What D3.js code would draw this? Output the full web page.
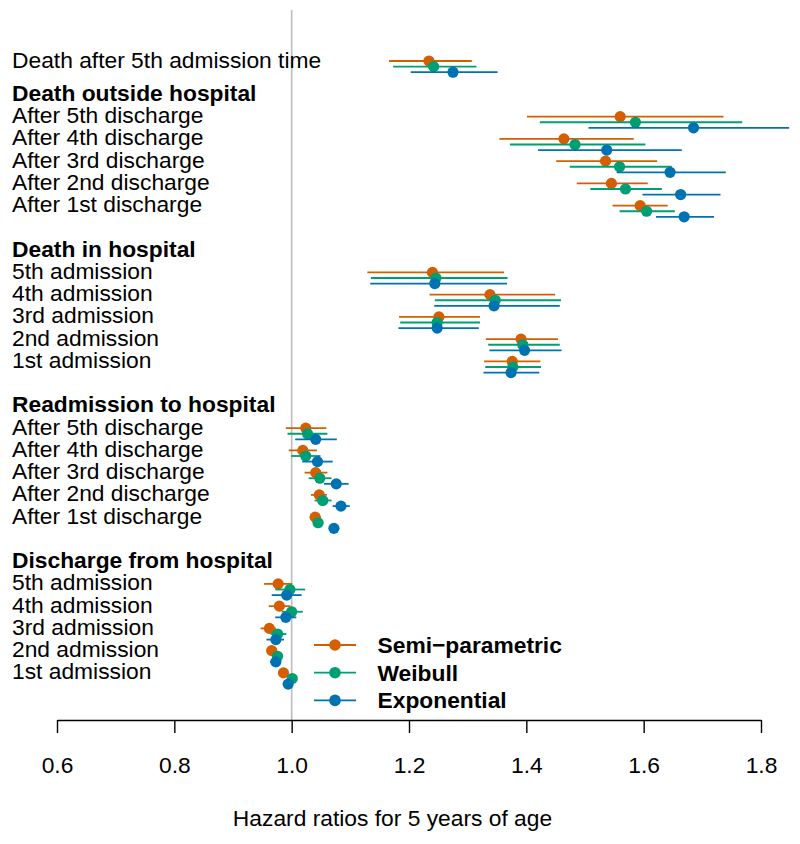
<!DOCTYPE html>
<html><head><meta charset="utf-8">
<script src="https://cdn.jsdelivr.net/npm/d3@7"></script>
<style>
html,body{margin:0;padding:0;background:#fff;}
svg text{font-family:"Liberation Sans",Arial,Helvetica,sans-serif;fill:#000;}
</style></head><body>
<svg id="chart" width="800" height="844"></svg>
<script>
// ---- data ----
const singleLabel = "Death after 5th admission time";
const groupTitles = ["Death outside hospital","Death in hospital","Readmission to hospital","Discharge from hospital"];
const groupRows = [
  ["After 5th discharge","After 4th discharge","After 3rd discharge","After 2nd discharge","After 1st discharge"],
  ["5th admission","4th admission","3rd admission","2nd admission","1st admission"],
  ["After 5th discharge","After 4th discharge","After 3rd discharge","After 2nd discharge","After 1st discharge"],
  ["5th admission","4th admission","3rd admission","2nd admission","1st admission"]
];
const seriesNames = ["Semi\u2212parametric","Weibull","Exponential"];
const semiEst = [1.234,1.560,1.464,1.535,1.545,1.594,1.240,1.338,1.251,1.391,1.376,1.024,1.019,1.041,1.047,1.040,0.977,0.979,0.962,0.966,0.986];
const semiLo  = [1.166,1.401,1.354,1.451,1.486,1.547,1.129,1.235,1.183,1.331,1.328,0.990,0.995,1.022,1.033,1.031,0.953,0.961,0.947,0.957,0.981];
const semiHi  = [1.307,1.736,1.583,1.623,1.607,1.641,1.362,1.449,1.321,1.454,1.424,1.059,1.043,1.061,1.060,1.050,1.001,0.998,0.973,0.974,0.991];
const weibEst = [1.242,1.586,1.483,1.559,1.569,1.605,1.246,1.347,1.248,1.394,1.377,1.027,1.024,1.048,1.053,1.045,0.997,1.000,0.976,0.976,1.001];
const weibLo  = [1.173,1.423,1.372,1.474,1.509,1.559,1.135,1.244,1.185,1.335,1.330,0.993,0.999,1.029,1.039,1.036,0.972,0.983,0.964,0.968,0.996];
const weibHi  = [1.315,1.768,1.603,1.648,1.631,1.653,1.368,1.459,1.321,1.457,1.425,1.061,1.049,1.068,1.068,1.054,1.023,1.019,0.991,0.985,1.006];
const expEst  = [1.275,1.685,1.537,1.645,1.663,1.669,1.244,1.345,1.248,1.397,1.374,1.041,1.044,1.076,1.084,1.072,0.9915,0.990,0.973,0.973,0.994];
const expLo   = [1.203,1.506,1.420,1.554,1.598,1.621,1.134,1.243,1.182,1.337,1.327,1.006,1.018,1.055,1.070,1.064,0.966,0.972,0.957,0.963,0.989];
const expHi   = [1.351,1.848,1.665,1.740,1.731,1.720,1.367,1.457,1.319,1.460,1.422,1.077,1.070,1.097,1.099,1.081,1.017,1.008,0.987,0.982,0.999];
const xTicks = [0.6,0.8,1.0,1.2,1.4,1.6,1.8];
const xTitle = "Hazard ratios for 5 years of age";
const colors = ["#D55E00","#009E73","#0072B2"];

// ---- layout of rows ----
const rows = []; // {label, r, bold, idx}
let r = 0, idx = 0;
rows.push({label: singleLabel, r: r, bold: false, idx: idx++});
groupTitles.forEach((g, gi) => {
  r += gi === 0 ? 1.5 : 2;
  rows.push({label: g, r: r, bold: true, idx: null});
  groupRows[gi].forEach(lab => { r += 1; rows.push({label: lab, r: r, bold: false, idx: idx++}); });
});
const dataRows = rows.filter(d => d.idx !== null);

const FS = 22.8;
const svg = d3.select("#chart");
const x = d3.scaleLinear().domain([0.6, 1.8]).range([57, 761]);
const y = d3.scaleLinear().domain([0, 27.5]).range([61, 672.9]);
const offs = [0, 5.6, 11.2];

// reference line at 1
svg.append("line").attr("x1", x(1)).attr("x2", x(1)).attr("y1", 10).attr("y2", 720)
  .attr("stroke", "#bdbdbd").attr("stroke-width", 1.6);

// labels
svg.append("g").selectAll("text").data(rows).join("text")
  .attr("x", 12).attr("y", d => y(d.r) + 6.5)
  .attr("font-size", FS).attr("font-weight", d => d.bold ? "bold" : "normal")
  .text(d => d.label);

// series
const series = [
  {est: semiEst, lo: semiLo, hi: semiHi},
  {est: weibEst, lo: weibLo, hi: weibHi},
  {est: expEst, lo: expLo, hi: expHi}
];
series.forEach((s, si) => {
  const g = svg.append("g");
  g.selectAll("line").data(dataRows).join("line")
    .attr("x1", d => x(s.lo[d.idx])).attr("x2", d => x(s.hi[d.idx]))
    .attr("y1", d => y(d.r) + offs[si]).attr("y2", d => y(d.r) + offs[si])
    .attr("stroke", colors[si]).attr("stroke-width", 1.8);
  g.selectAll("circle").data(dataRows).join("circle")
    .attr("cx", d => x(s.est[d.idx])).attr("cy", d => y(d.r) + offs[si])
    .attr("r", 5.6).attr("fill", colors[si]);
});

// legend
const leg = svg.append("g");
seriesNames.forEach((n, i) => {
  const ly = 645 + i * 27.7;
  leg.append("line").attr("x1", 314).attr("x2", 356).attr("y1", ly).attr("y2", ly)
    .attr("stroke", colors[i]).attr("stroke-width", 1.8);
  leg.append("circle").attr("cx", 335).attr("cy", ly).attr("r", 5.8).attr("fill", colors[i]);
  leg.append("text").attr("x", 377.5).attr("y", ly + 8).attr("font-size", FS)
    .attr("font-weight", "bold").text(n);
});

// axis
const ax = svg.append("g").attr("transform", "translate(0,720)")
  .call(d3.axisBottom(x).tickValues(xTicks).tickFormat(d3.format(".1f")).tickSize(13).tickPadding(24).tickSizeOuter(0));
ax.select(".domain").attr("stroke", "#000").attr("stroke-width", 1.4);
ax.selectAll(".tick line").attr("stroke", "#000").attr("stroke-width", 1.4);
ax.selectAll(".tick text").attr("font-size", FS).attr("font-family", "Liberation Sans, Arial, sans-serif").attr("fill", "#000");

svg.append("text").attr("x", 392.5).attr("y", 826)
  .attr("text-anchor", "middle").attr("font-size", FS).text(xTitle);
</script>
</body></html>
